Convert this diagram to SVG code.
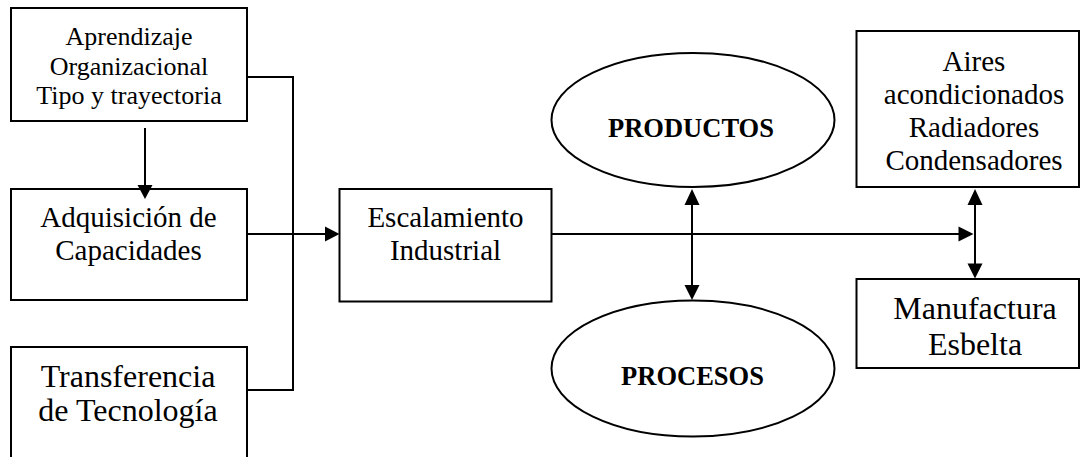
<svg xmlns="http://www.w3.org/2000/svg" width="1081" height="457" viewBox="0 0 1081 457">
<style>
.box{fill:#fff;stroke:#000;stroke-width:2}
.ell{fill:#fff;stroke:#000;stroke-width:2}
.ln{fill:none;stroke:#000;stroke-width:2}
.ah{fill:#000;stroke:none}
text{font-family:"Liberation Serif","Times New Roman",serif;fill:#000;text-anchor:middle}
.t26{font-size:26px}
.t29{font-size:29px}
.t32{font-size:32px}
.b{font-size:26.5px;font-weight:bold}
</style>
<rect width="1081" height="457" fill="#fff"/>
<g id="n-aprendizaje">
<rect class="box" x="11" y="8" width="236" height="113"/>
<text class="t26" x="129" y="44.5">Aprendizaje</text>
<text class="t26" x="129" y="75">Organizacional</text>
<text class="t26" x="129" y="104">Tipo y trayectoria</text>
</g>
<g id="n-adquisicion">
<rect class="box" x="11" y="189" width="236" height="111"/>
<text class="t29" x="128.5" y="226.5">Adquisición de</text>
<text class="t29" x="128.5" y="260">Capacidades</text>
</g>
<g id="n-transferencia">
<rect class="box" x="11" y="347" width="236" height="130"/>
<text class="t32" x="128" y="387">Transferencia</text>
<text class="t32" x="128" y="421">de Tecnología</text>
</g>
<g id="n-escalamiento">
<rect class="box" x="339.5" y="189" width="212" height="112.5"/>
<text class="t29" x="445.5" y="226.5">Escalamiento</text>
<text class="t29" x="445.5" y="260">Industrial</text>
</g>
<g id="n-productos">
<ellipse class="ell" cx="693" cy="120" rx="141.5" ry="67"/>
<text class="b" x="691" y="136.5">PRODUCTOS</text>
</g>
<g id="n-procesos">
<ellipse class="ell" cx="693" cy="368.5" rx="141.5" ry="68"/>
<text class="b" x="692.5" y="385">PROCESOS</text>
</g>
<g id="n-aires">
<rect class="box" x="856.5" y="31" width="222.5" height="156"/>
<text class="t29" x="974" y="71">Aires</text>
<text class="t29" x="974" y="104">acondicionados</text>
<text class="t29" x="974" y="137">Radiadores</text>
<text class="t29" x="974" y="170">Condensadores</text>
</g>
<g id="n-manufactura">
<rect class="box" x="856.5" y="279" width="222.5" height="89"/>
<text class="t32" x="975" y="319">Manufactura</text>
<text class="t32" x="975" y="355">Esbelta</text>
</g>
<g id="connectors">
<line class="ln" x1="145" y1="128" x2="145" y2="186"/>
<polygon class="ah" points="137.5,185 152.5,185 145,199"/>
<polyline class="ln" points="247,77 293,77 293,390 247,390"/>
<line class="ln" x1="247" y1="234" x2="327" y2="234"/>
<polygon class="ah" points="325,226.5 325,241.5 339.5,234"/>
<line class="ln" x1="551.5" y1="234" x2="960" y2="234"/>
<polygon class="ah" points="958.5,226.5 958.5,241.5 973.5,234"/>
<line class="ln" x1="692" y1="203" x2="692" y2="287"/>
<polygon class="ah" points="684.5,205 699.5,205 692,189"/>
<polygon class="ah" points="684.5,285 699.5,285 692,300"/>
<line class="ln" x1="975" y1="203" x2="975" y2="265"/>
<polygon class="ah" points="967.5,205 982.5,205 975,189"/>
<polygon class="ah" points="967.5,263.5 982.5,263.5 975,278.5"/>
</g>
</svg>
